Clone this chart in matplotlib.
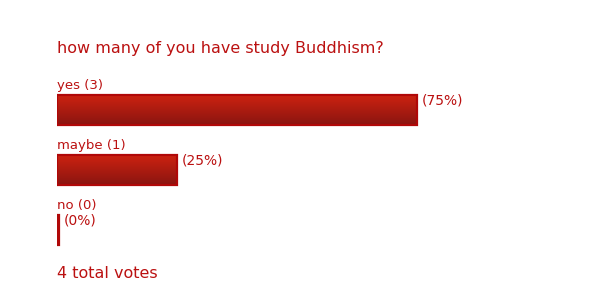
import matplotlib
matplotlib.use('Agg')
import matplotlib.pyplot as plt
import matplotlib.colors as mcolors
import numpy as np

# Poll data
question = 'how many of you have study Buddhism?'
options = ['yes', 'maybe', 'no']
votes = [3, 1, 0]

total = sum(votes)
percents = [100.0 * v / total for v in votes]

text_color = '#bb1111'
edge_color = '#b00808'
grad_cmap = mcolors.LinearSegmentedColormap.from_list('poll', ['#cc2211', '#8a1510'])
min_width = 0.45  # percent, so that an empty option still shows a sliver

fig = plt.figure(figsize=(5.9, 3), dpi=100)
fig.patch.set_facecolor('white')

# Axis spans 480 px for 0..100 %, rows are 60 px apart
ax = fig.add_axes([57 / 590, 0, 480 / 590, 1])
ax.set_xlim(0, 100)
ax.set_ylim(3.1667, -1.8333)
ax.axis('off')

bar_h = 0.5
gradient = np.linspace(0, 1, 64).reshape(-1, 1)

for i, (opt, v, p) in enumerate(zip(options, votes, percents)):
    w = max(p, min_width)
    ax.imshow(gradient, cmap=grad_cmap, aspect='auto',
              extent=[0, w, i + bar_h / 2, i - bar_h / 2], zorder=2)
    ax.barh(i, w, height=bar_h, left=0, color='none',
            edgecolor=edge_color, linewidth=1.6, zorder=3)
    ax.text(0, i - 0.4, f'{opt} ({v})', color=text_color,
            fontsize=9.5, ha='left', va='center')
    ax.text(w + 0.9, i - 0.15, f'({p:.0f}%)', color=text_color,
            fontsize=10, ha='left', va='center')

ax.text(0, -1.03, question, color=text_color, fontsize=11.5,
        ha='left', va='center')
ax.text(0, 2.733, f'{total} total votes', color=text_color, fontsize=11.5,
        ha='left', va='center')

plt.savefig('out.png', dpi=100, facecolor='white')
